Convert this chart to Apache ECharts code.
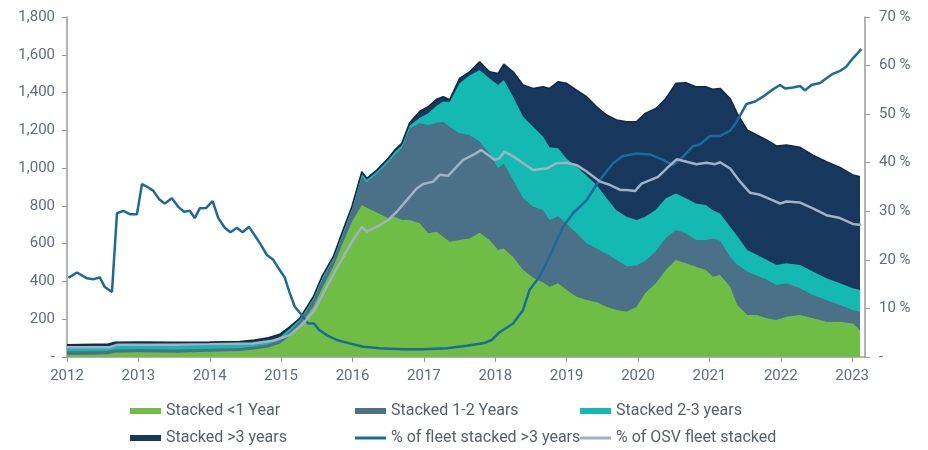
<!DOCTYPE html>
<html>
<head>
<meta charset="utf-8">
<script src="https://cdn.jsdelivr.net/npm/echarts@6/dist/echarts.min.js"></script>
<style>
  html, body { margin: 0; padding: 0; background: #fff; }
  #chart { width: 928px; height: 450px; }
</style>
</head>
<body>
<div id="chart"></div>
<script>
// stacked vessel counts (left axis), dates as decimal years
const areaDates = [
  2012.00, 2012.39, 2012.57, 2012.67, 2013.02, 2013.51, 2014.00, 2014.42, 2014.63, 2014.82,
  2014.98, 2015.12, 2015.26, 2015.45, 2015.57, 2015.73, 2015.85, 2015.99, 2016.13, 2016.20,
  2016.34, 2016.50, 2016.59, 2016.69, 2016.80, 2016.94, 2017.06, 2017.18, 2017.27, 2017.36,
  2017.50, 2017.64, 2017.78, 2017.92, 2018.04, 2018.12, 2018.25, 2018.39, 2018.53, 2018.67,
  2018.76, 2018.88, 2019.00, 2019.14, 2019.28, 2019.42, 2019.56, 2019.70, 2019.84, 2019.98,
  2020.10, 2020.25, 2020.39, 2020.53, 2020.67, 2020.81, 2020.95, 2021.05, 2021.15, 2021.29,
  2021.39, 2021.53, 2021.67, 2021.80, 2021.94, 2022.08, 2022.27, 2022.45, 2022.64, 2022.83,
  2023.01, 2023.11
];
const stackedUnder1 = [
  10, 12, 14, 22, 25, 22, 28, 32, 40, 50,
  70, 110, 170, 266, 360, 478, 590, 715, 805, 790,
  765, 734, 743, 725, 725, 708, 655, 663, 637, 610,
  619, 628, 658, 619, 566, 575, 530, 461, 420, 395,
  372, 390, 355, 319, 302, 290, 266, 249, 240, 266,
  337, 390, 461, 514, 496, 478, 461, 425, 434, 372,
  275, 222, 222, 205, 196, 213, 222, 205, 187, 187,
  178, 143
];
const stacked1to2 = [
  20, 20, 18, 18, 17, 18, 16, 16, 15, 18,
  20, 25, 20, 34, 45, 37, 45, 60, 150, 135,
  205, 296, 327, 380, 486, 529, 573, 577, 609, 609,
  565, 547, 482, 459, 433, 450, 407, 379, 376, 383,
  353, 355, 350, 336, 300, 285, 279, 265, 240, 219,
  173, 170, 169, 158, 159, 141, 158, 203, 181, 159,
  215, 230, 208, 205, 185, 177, 142, 123, 115, 88,
  71, 97
];
const stacked2to3 = [
  18, 18, 18, 20, 18, 20, 18, 16, 15, 17,
  15, 15, 10, 12, 13, 10, 13, 13, 15, 13,
  12, 13, 15, 15, 14, 28, 62, 90, 106, 131,
  265, 315, 379, 397, 441, 441, 441, 432, 423, 388,
  385, 360, 345, 352, 358, 336, 295, 261, 263, 240,
  233, 220, 210, 194, 185, 194, 186, 147, 145, 159,
  150, 114, 110, 105, 106, 106, 123, 124, 115, 115,
  115, 115
];
const stackedOver3 = [
  17, 17, 18, 18, 20, 18, 18, 18, 20, 17,
  15, 10, 5, 7, 7, 6, 7, 8, 11, 8,
  8, 9, 10, 11, 15, 35, 35, 35, 26, 12,
  26, 20, 44, 35, 61, 85, 132, 168, 203, 265,
  312, 352, 399, 406, 418, 414, 441, 480, 503, 521,
  547, 536, 529, 583, 612, 618, 626, 642, 662, 679,
  650, 636, 635, 634, 630, 626, 623, 617, 617, 614,
  600, 600
];

// % of fleet stacked >3 years (right axis)
const fleetDates = [
  2012.02, 2012.14, 2012.28, 2012.37, 2012.46, 2012.53, 2012.63, 2012.70, 2012.79, 2012.88,
  2012.98, 2013.05, 2013.14, 2013.21, 2013.29, 2013.37, 2013.47, 2013.56, 2013.64, 2013.72,
  2013.79, 2013.86, 2013.95, 2014.04, 2014.12, 2014.21, 2014.29, 2014.38, 2014.46, 2014.55,
  2014.65, 2014.70, 2014.80, 2014.89, 2014.98, 2015.05, 2015.12, 2015.19, 2015.29, 2015.38,
  2015.46, 2015.53, 2015.64, 2015.78, 2015.96, 2016.15, 2016.38, 2016.71, 2016.99, 2017.32,
  2017.60, 2017.85, 2017.95, 2018.06, 2018.25, 2018.39, 2018.48, 2018.62, 2018.76, 2018.95,
  2019.09, 2019.28, 2019.46, 2019.65, 2019.79, 2019.98, 2020.17, 2020.35, 2020.49, 2020.63,
  2020.77, 2020.87, 2021.01, 2021.15, 2021.29, 2021.38, 2021.52, 2021.64, 2021.75, 2021.89,
  2021.99, 2022.06, 2022.17, 2022.27, 2022.34, 2022.43, 2022.55, 2022.64, 2022.73, 2022.83,
  2022.92, 2023.01, 2023.13
];
const fleetOver3Pct = [
  16.3, 17.4, 16.2, 16.0, 16.4, 14.4, 13.4, 29.6, 30.1, 29.4,
  29.4, 35.6, 34.9, 34.2, 32.5, 31.6, 32.7, 30.9, 29.9, 30.1,
  28.6, 30.6, 30.7, 32.1, 28.6, 26.6, 25.7, 26.6, 25.7, 26.8,
  24.6, 23.5, 21.0, 20.0, 17.9, 16.4, 13.2, 10.4, 8.6, 6.9,
  6.9, 5.6, 4.5, 3.5, 2.8, 2.1, 1.8, 1.6, 1.6, 1.8,
  2.3, 2.9, 3.5, 5.1, 6.9, 9.7, 13.8, 16.5, 20.7, 26.8,
  29.6, 32.3, 36.4, 39.9, 41.4, 41.9, 41.7, 40.6, 39.5, 41.2,
  43.4, 43.8, 45.5, 45.5, 46.6, 48.4, 52.1, 52.6, 53.6, 55.1,
  56.0, 55.3, 55.5, 55.8, 54.9, 56.0, 56.4, 57.4, 58.3, 58.9,
  59.8, 61.5, 63.4
];

// % of OSV fleet stacked (right axis)
const osvDates = [
  2012.00, 2012.60, 2012.70, 2013.50, 2014.00, 2014.60, 2014.90, 2015.12, 2015.31, 2015.47,
  2015.64, 2015.82, 2015.99, 2016.13, 2016.20, 2016.34, 2016.50, 2016.62, 2016.76, 2016.90,
  2016.99, 2017.13, 2017.22, 2017.34, 2017.46, 2017.55, 2017.69, 2017.80, 2017.88, 2017.99,
  2018.06, 2018.13, 2018.25, 2018.39, 2018.53, 2018.72, 2018.86, 2019.00, 2019.14, 2019.28,
  2019.47, 2019.61, 2019.75, 2019.84, 2019.96, 2020.05, 2020.17, 2020.28, 2020.40, 2020.54,
  2020.68, 2020.82, 2020.96, 2021.08, 2021.15, 2021.29, 2021.43, 2021.57, 2021.71, 2021.85,
  2021.99, 2022.08, 2022.27, 2022.45, 2022.64, 2022.83, 2023.01, 2023.13
];
const osvPct = [
  2.0, 2.0, 2.5, 2.5, 2.6, 2.8, 3.4, 4.5, 6.9, 9.7,
  14.5, 19.3, 23.7, 26.8, 25.8, 26.8, 28.2, 29.9, 32.3, 34.7,
  35.6, 36.1, 37.5, 37.3, 39.2, 40.6, 41.6, 42.6, 41.8, 40.6,
  40.9, 42.3, 41.3, 39.9, 38.5, 38.8, 39.9, 40.0, 39.5, 38.2,
  36.1, 35.4, 34.4, 34.4, 34.2, 35.7, 36.4, 37.1, 38.8, 40.7,
  40.2, 39.7, 40.0, 39.7, 40.1, 38.8, 36.1, 33.8, 33.4, 32.5,
  31.6, 32.0, 31.8, 30.6, 29.2, 28.6, 27.4, 27.2
];

const axisGrey = '#9a9a9a';
const labelColor = '#5f6e7e';
const font = 'Roboto';
const lineIcon = 'path://M0,0H31V3H0Z';

function pairs(xs, ys) {
  return xs.map((x, i) => [x, ys[i]]);
}

// both axes are value axes, so echarts would stack on x: sum the layers here instead
const layers = [stackedUnder1, stacked1to2, stacked2to3, stackedOver3];
const tops = layers.map((_, k) => areaDates.map((d, i) => {
  let sum = 0;
  for (let j = 0; j <= k; j++) sum += layers[j][i];
  return sum;
}));

function areaSeries(name, k, color, edge) {
  return {
    name: name,
    type: 'line',
    data: pairs(areaDates, tops[k]),
    symbol: 'none',
    z: 2,
    itemStyle: { color: color },
    lineStyle: { width: edge ? 1.5 : 0, color: edge || color },
    areaStyle: { color: color, opacity: 1, origin: 'start' }
  };
}

function legendCol(left, items) {
  return {
    left: left,
    top: 403,
    height: 46,
    padding: 0,
    orient: 'vertical',
    itemWidth: 31,
    itemHeight: 6,
    itemGap: 11,
    textStyle: { fontFamily: font, fontSize: 16, color: '#55606b', lineHeight: 16 },
    data: items
  };
}

const chart = echarts.init(document.getElementById('chart'));
chart.setOption({
  animation: false,
  grid: { left: 67, right: 63, top: 17, bottom: 93 },
  legend: [
    legendCol(130, [{ name: 'Stacked <1 Year', icon: 'rect' }, { name: 'Stacked >3 years', icon: 'rect' }]),
    legendCol(355, [{ name: 'Stacked 1-2 Years', icon: 'rect' }, { name: '% of fleet stacked >3 years', icon: lineIcon }]),
    legendCol(580, [{ name: 'Stacked 2-3 years', icon: 'rect' }, { name: '% of OSV fleet stacked', icon: lineIcon }])
  ],
  xAxis: {
    type: 'value',
    min: 2012,
    max: 2023.18,
    interval: 1,
    axisLine: { show: true, lineStyle: { color: axisGrey, width: 1.5 } },
    axisTick: { show: true, length: 5, lineStyle: { color: axisGrey } },
    splitLine: { show: false },
    axisLabel: {
      margin: 12,
      fontFamily: font,
      fontSize: 15,
      color: labelColor,
      showMaxLabel: false,
      formatter: v => (Math.abs(v - Math.round(v)) < 1e-6 ? String(Math.round(v)) : '')
    }
  },
  yAxis: [
    {
      type: 'value',
      min: 0,
      max: 1800,
      interval: 200,
      axisLine: { show: true, lineStyle: { color: axisGrey, width: 1.5 } },
      axisTick: { show: true, length: 5, lineStyle: { color: axisGrey } },
      splitLine: { show: false },
      axisLabel: {
        margin: 12,
        fontFamily: font,
        fontSize: 15,
        color: labelColor,
        formatter: v => (v === 0 ? '-' : v.toLocaleString('en-US'))
      }
    },
    {
      type: 'value',
      position: 'right',
      min: 0,
      max: 70,
      interval: 10,
      axisLine: { show: true, lineStyle: { color: axisGrey, width: 1.5 } },
      axisTick: { show: true, length: 5, lineStyle: { color: axisGrey } },
      splitLine: { show: false },
      axisLabel: {
        margin: 14,
        fontFamily: font,
        fontSize: 15,
        color: labelColor,
        formatter: v => (v === 0 ? '-' : v + ' %')
      }
    }
  ],
  series: [
    // drawn from the tallest layer down so each lower layer covers the one above
    areaSeries('Stacked >3 years', 3, '#17375c', '#0f2a4a'),
    areaSeries('Stacked 2-3 years', 2, '#14b9b2'),
    areaSeries('Stacked 1-2 Years', 1, '#4b7189'),
    areaSeries('Stacked <1 Year', 0, '#70bd45'),
    {
      name: '% of fleet stacked >3 years',
      type: 'line',
      yAxisIndex: 1,
      z: 3,
      data: pairs(fleetDates, fleetOver3Pct),
      symbol: 'none',
      itemStyle: { color: '#1b6a9b' },
      lineStyle: { width: 2.5, color: '#1b6a9b' }
    },
    {
      name: '% of OSV fleet stacked',
      type: 'line',
      yAxisIndex: 1,
      z: 3,
      data: pairs(osvDates, osvPct),
      symbol: 'none',
      itemStyle: { color: '#a0b2c5' },
      lineStyle: { width: 2.5, color: '#a0b2c5' }
    }
  ]
});
</script>
</body>
</html>
